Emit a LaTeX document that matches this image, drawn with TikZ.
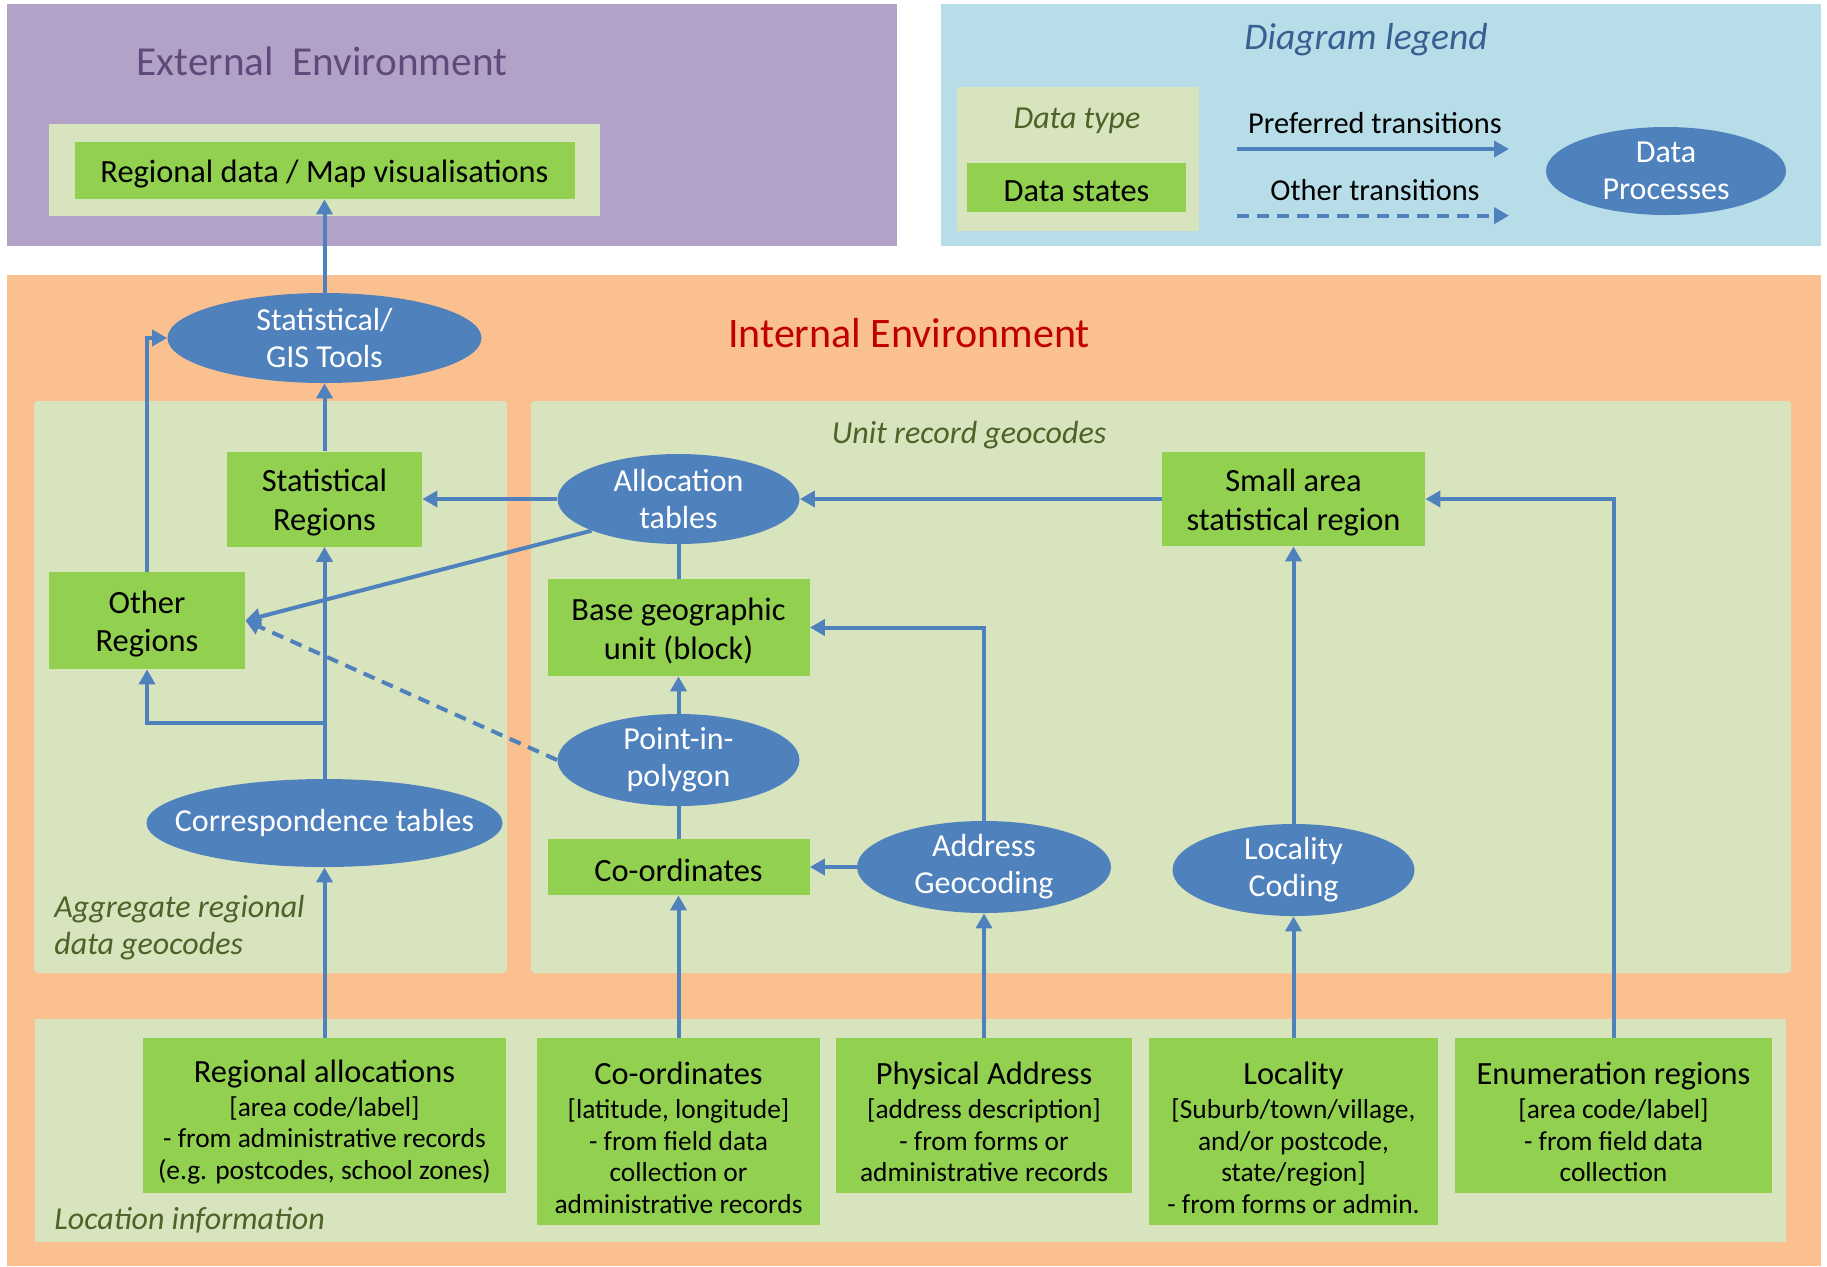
\documentclass[tikz,border=0pt]{standalone}
\usepackage{fontspec}
\setmainfont{Carlito}
\usetikzlibrary{arrows.meta,shapes.geometric}
\definecolor{cpurple}{HTML}{B2A2C7}
\definecolor{clegend}{HTML}{B7DEE8}
\definecolor{corange}{HTML}{FAC090}
\definecolor{clight}{HTML}{D7E4BD}
\definecolor{cgreen}{HTML}{92D050}
\definecolor{cblue}{HTML}{4F81BD}
\definecolor{cext}{HTML}{604A7B}
\definecolor{cint}{HTML}{C00000}
\definecolor{clegtxt}{HTML}{376092}
\definecolor{colive}{HTML}{4F6228}
\newcommand\boxtitle{\fontsize{16.2}{19}\selectfont}
\tikzset{
 gbox/.style={rectangle, fill=cgreen, draw=none, inner sep=0pt},
 gtext/.style={text=black, align=center, inner sep=0pt, yshift=-1.75pt, font=\fontsize{16.2}{19.25}\selectfont},
 srctext/.style={gtext, yshift=-1.5pt, font=\fontsize{13.7}{15.9}\selectfont},
 proc/.style={ellipse, fill=cblue, draw=none, inner sep=0pt},
 ptext/.style={text=white, align=center, font=\fontsize{16}{18.5}\selectfont},
 flow/.style={draw=cblue, line width=2pt, -{Triangle[length=7.5pt,width=8pt]}},
 link/.style={draw=cblue, line width=2pt},
 otherflow/.style={flow, dash pattern=on 6pt off 4pt},
 grouplbl/.style={text=colive, font=\fontsize{16}{18.75}\selectfont\itshape, inner sep=0pt},
 legtxt/.style={text=black, font=\fontsize{15.2}{17}\selectfont, inner sep=0pt},
}
\begin{document}
\begin{tikzpicture}[x=0.5pt,y=-0.5pt]
\useasboundingbox (0,0) rectangle (1827,1266);
\fill[white] (0,0) rectangle (1827,1266);
% areas
\fill[cpurple] (7,3.5) rectangle (897,246);
\fill[clegend] (941,3.5) rectangle (1821,246);
\fill[corange] (7,275) rectangle (1821,1266);
\fill[clight] (49,123.5) rectangle (600,215.6);
\fill[clight] (957,87) rectangle (1199,231);
\fill[clight, rounded corners=2pt] (34,401) rectangle (507,973);
\fill[clight, rounded corners=2pt] (531,401) rectangle (1791,973);
\fill[clight] (35,1019) rectangle (1786,1242);

% titles
\node[text=cext, font=\fontsize{20.6}{24}\selectfont] (exttitle) at (322,61) {External\ \ Environment};
\node[text=cint, font=\fontsize{21}{24}\selectfont] (inttitle) at (909,333) {Internal Environment};
\node[text=clegtxt, font=\fontsize{18.8}{22}\selectfont\itshape] (legtitle) at (1366,40) {Diagram legend};

% legend
\node[grouplbl] (dtype) at (1077,120.5) {Data type};
\node[gbox, minimum width=109.5pt, minimum height=24.5pt, label={[gtext]center:{Data states}}] (dstates) at (1076.5,187.5) {};
\node[legtxt] (preftxt) at (1375,123.5) {Preferred transitions};
\node[legtxt] (othtxt) at (1375,190) {Other transitions};
\coordinate (pa) at (1237,149);
\coordinate (pb) at (1509,149);
\coordinate (oa) at (1237,215.6);
\coordinate (ob) at (1509,215.6);
\draw[flow] (pa) -- (pb);
\draw[otherflow] (oa) -- (ob);
\node[proc, minimum width=120pt, minimum height=44pt, label={[ptext]center:{Data\\Processes}}] (dproc) at (1666,171) {};

% group labels
\node[grouplbl] (unitlbl) at (969,435) {Unit record geocodes};
\node[grouplbl, align=left, anchor=west] (agglbl) at (54,927.5) {Aggregate regional\\data geocodes};
\node[grouplbl, anchor=west] (loclbl) at (54,1220) {Location information};

% data states
\node[gbox, minimum width=250pt, minimum height=28.5pt, label={[gtext]center:{Regional data / Map visualisations}}] (vis) at (324.5,170.5) {};
\node[gbox, minimum width=97.5pt, minimum height=47.5pt, label={[gtext]center:{Statistical\\Regions}}] (statreg) at (324.5,499) {};
\node[gbox, minimum width=98pt, minimum height=48.5pt, label={[gtext]center:{Other\\Regions}}] (other) at (147,620.5) {};
\node[gbox, minimum width=131pt, minimum height=48.5pt, label={[gtext]center:{Base geographic\\unit (block)}}] (base) at (678.5,627.5) {};
\node[gbox, minimum width=131pt, minimum height=28pt, label={[gtext]center:{Co-ordinates}}] (coord) at (678.5,867) {};
\node[gbox, minimum width=131.5pt, minimum height=47pt, label={[gtext]center:{Small area\\statistical region}}] (small) at (1293.5,499) {};

\node[gbox, minimum width=181.5pt, minimum height=77.5pt, label={[srctext]center:{{\boxtitle Regional allocations}\\[1pt]{[area code/label]}\\- from administrative records\\(e.g. postcodes, school zones)}}] (b1) at (324.5,1115.5) {};
\node[gbox, minimum width=141.5pt, minimum height=93.5pt, label={[srctext]center:{{\boxtitle Co-ordinates}\\[1pt]{[latitude, longitude]}\\- from field data\\collection or\\administrative records}}] (b2) at (678.5,1131.5) {};
\node[gbox, minimum width=148pt, minimum height=77.5pt, label={[srctext]center:{{\boxtitle Physical Address}\\[1pt]{[address description]}\\- from forms or\\administrative records}}] (b3) at (984,1115.5) {};
\node[gbox, minimum width=144.5pt, minimum height=93.5pt, label={[srctext]center:{{\boxtitle Locality}\\[1pt]{[Suburb/town/village,}\\and/or postcode,\\state/region]\\- from forms or admin.}}] (b4) at (1293.5,1131.5) {};
\node[gbox, minimum width=158.5pt, minimum height=77.5pt, label={[srctext]center:{{\boxtitle Enumeration regions}\\[1pt]{[area code/label]}\\- from field data\\collection}}] (b5) at (1613.5,1115.5) {};

% processes
\node[proc, minimum width=157pt, minimum height=45pt, label={[ptext]center:{Statistical/\\GIS Tools}}] (gis) at (324.5,338) {};
\node[proc, minimum width=121pt, minimum height=45pt, label={[ptext]center:{Allocation\\tables}}] (alloc) at (678.5,499) {};
\node[proc, minimum width=121pt, minimum height=46pt, label={[ptext]center:{Point-in-\\polygon}}] (pip) at (678.5,760) {};
\node[proc, minimum width=178pt, minimum height=44pt, label={[ptext]center:{Correspondence tables}}] (corr) at (324.5,823) {};
\node[proc, minimum width=127pt, minimum height=46pt, label={[ptext]center:{Address\\Geocoding}}] (addr) at (984,867) {};
\node[proc, minimum width=121pt, minimum height=46pt, label={[ptext]center:{Locality\\Coding}}] (locc) at (1293.5,870) {};

% connectors
\coordinate (br) at (324.5,723);
\draw[flow] (gis.north) -- (vis.south);
\draw[flow] (statreg.north) -- (gis.south);
\draw[flow] (other.north) |- (gis.west);
\draw[flow] (alloc.west) -- (statreg.east);
\draw[flow] (alloc.200) -- (other.east);
\draw[otherflow] (pip.west) -- (other.east);
\draw[flow] (corr.north) -- (statreg.south);
\draw[flow] (br) -| (other.south);
\draw[flow] (b1.north) -- (corr.south);
\draw[link] (alloc.south) -- (base.north);
\draw[flow] (pip.north) -- (base.south);
\draw[link] (coord.north) -- (pip.south);
\draw[flow] (b2.north) -- (coord.south);
\draw[flow] (addr.west) -- (coord.east);
\draw[flow] (addr.north) |- (base.east);
\draw[flow] (b3.north) -- (addr.south);
\draw[flow] (small.west) -- (alloc.east);
\draw[flow] (locc.north) -- (small.south);
\draw[flow] (b4.north) -- (locc.south);
\draw[flow] (b5.north) |- (small.east);
\end{tikzpicture}
\end{document}
